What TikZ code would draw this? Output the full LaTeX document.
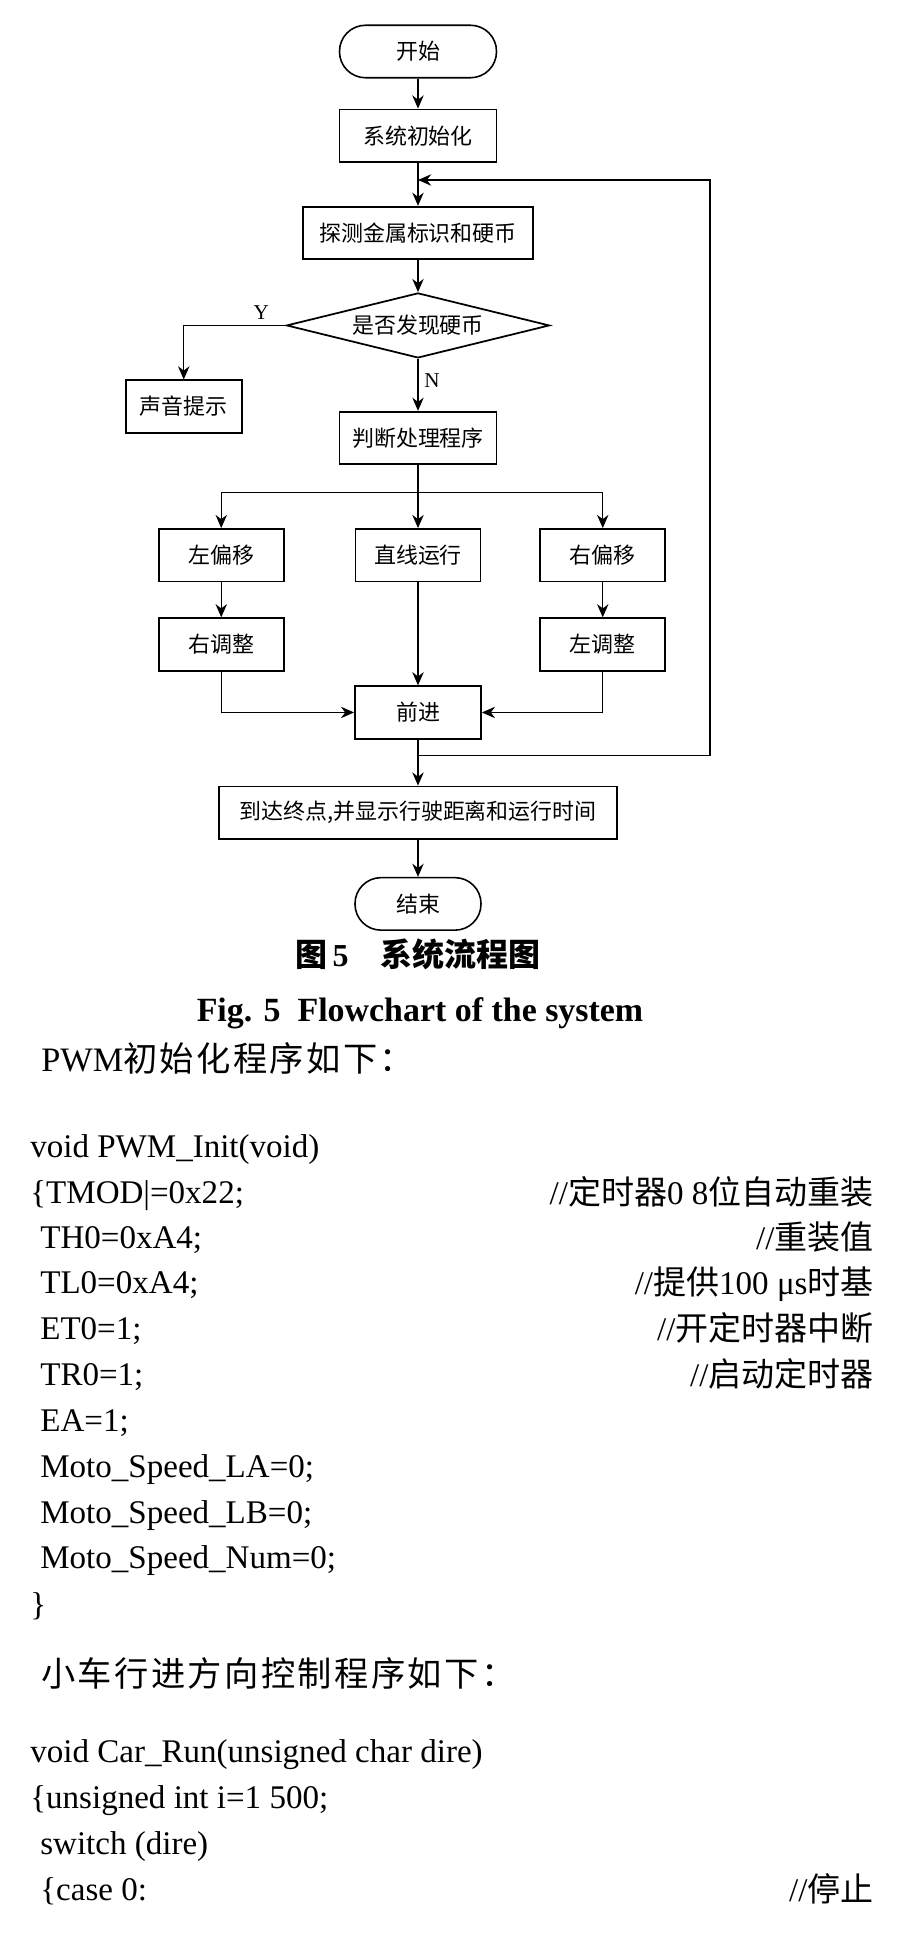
\documentclass[tikz,border=0pt]{standalone}
\usepackage{fontspec}
\setmainfont{Liberation Serif}
\newfontfamily\cjk{Noto Sans CJK SC}
\newfontfamily\cjkwide{Noto Sans CJK SC}[LetterSpace=7]
\usepackage{tikz}
\usetikzlibrary{shapes.geometric,arrows.meta,positioning,calc}
\newcommand{\fcfont}{\cjk\fontsize{12.5}{15}\selectfont}
\newcommand{\codefont}{\fontsize{18.8}{22}\selectfont}
\newcommand{\headfont}{\fontsize{19.5}{23}\selectfont}
\tikzset{
  pbox/.style={
    rectangle, draw, line width=1pt,
    minimum width=#1, minimum height=1.05cm,
    inner sep=2pt, align=center, font=\fcfont
  },
  tbox/.style={
    rectangle, rounded corners=0.52cm, draw, line width=0.9pt,
    minimum width=#1, minimum height=1.05cm,
    inner sep=2pt, align=center, font=\fcfont
  },
  dbox/.style={
    diamond, aspect=4, draw, line width=1pt,
    minimum width=5.26cm, minimum height=1.3cm,
    inner sep=0pt, align=center, font=\fcfont
  },
  arr/.style={-{Stealth[length=7.5pt,width=6.5pt]}, line width=0.65pt},
  lbl/.style={font=\fontsize{12}{14}\selectfont},
  capline/.style={inner sep=0pt, text height=0.7em, text depth=0pt},
  code/.style={anchor=west, inner sep=0pt, text height=0.66em,
    text depth=0pt, font=\codefont},
  note/.style={code, anchor=east, text height=0.76em},
  head/.style={anchor=west, inner sep=0pt, text height=0.76em,
    text depth=0pt, font=\headfont}
}
\begin{document}
\begin{tikzpicture}[node distance=0.6cm and 0.5cm]
\useasboundingbox (0,0) rectangle (18.02,-38.76);

% Flowchart
\node[tbox=3.14cm] (start) at (8.36,-1.03) {开始};
\node[pbox=3.14cm, below=0.6cm of start] (init) {系统初始化};
\node[pbox=4.6cm, below=0.86cm of init] (detect) {探测金属标识和硬币};
\node[dbox, below=0.64cm of detect] (coin) {是否发现硬币};
\node[pbox=2.32cm, below left=1.08cm and 0.86cm of coin.west] (sound) {声音提示};
\node[pbox=3.14cm, below=1.04cm of coin] (judge) {判断处理程序};

\node[pbox=2.5cm, below=1.26cm of judge] (straight) {直线运行};
\node[pbox=2.5cm, left=1.4cm of straight] (lshift) {左偏移};
\node[pbox=2.5cm, right=1.16cm of straight] (rshift) {右偏移};
\node[pbox=2.5cm, below=0.7cm of lshift] (radjust) {右调整};
\node[pbox=2.5cm, below=0.7cm of rshift] (ladjust) {左调整};

\node[pbox=2.52cm, below=2.06cm of straight] (fwd) {前进};
\node[pbox=7.96cm, below=0.92cm of fwd] (arrive)
  {到达终点,并显示行驶距离和运行时间};
\node[tbox=2.52cm, below=0.74cm of arrive] (stop) {结束};

\coordinate (join) at ($(init.south)!0.4!(detect.north)$);
\coordinate (split) at ($(fwd.south)!0.35!(arrive.north)$);

% ── Arrows ──────────────────────────────────────────────────────────────
\draw[arr] (start) -- (init);
\draw[arr] (init) -- (detect);
\draw[arr] (detect) -- (coin);
\draw[arr] (coin.west) -| node[lbl, pos=0.12, above] {Y} (sound.north);
\draw[arr] (coin) -- node[lbl, pos=0.42, right] {N} (judge);

\draw[arr] (judge.south) -- ++(0,-0.54) -| (lshift.north);
\draw[arr] (judge) -- (straight);
\draw[arr] (judge.south) -- ++(0,-0.54) -| (rshift.north);

\draw[arr] (lshift) -- (radjust);
\draw[arr] (rshift) -- (ladjust);
\draw[arr] (straight) -- (fwd);
\draw[arr] (radjust.south) |- (fwd.west);
\draw[arr] (ladjust.south) |- (fwd.east);

\draw[arr] (fwd) -- (arrive);
\draw[arr] (arrive) -- (stop);

% Loop back to detection
\draw[arr] (split) -- ++(5.84,0) |- (join);

% Caption
\node[capline, font=\bfseries\fontsize{18.2}{22}\selectfont] (figcn) at (8.36,-19.20)
  {{\cjk 图}\,5\quad{\cjk 系统流程图}};
\node[capline, font=\bfseries\fontsize{19.3}{23}\selectfont] (figen) at (8.40,-20.30)
  {Fig. 5\ \ Flowchart of the system};

% PWM init listing
\node[head] (pwmtitle) at (0.82,-21.30) {PWM{\cjkwide 初始化程序如下：}};
\node[code] (pwmdecl) at (0.60,-23.04) {void PWM\_Init(void)};
\node[code] (tmod) at (0.60,-23.96) {\{TMOD|=0x22;};
\node[code] (th0) at (0.80,-24.86) {TH0=0xA4;};
\node[code] (tl0) at (0.80,-25.76) {TL0=0xA4;};
\node[code] (et0) at (0.80,-26.68) {ET0=1;};
\node[code] (tr0) at (0.80,-27.60) {TR0=1;};
\node[code] (ea) at (0.80,-28.52) {EA=1;};
\node[code] (spla) at (0.80,-29.44) {Moto\_Speed\_LA=0;};
\node[code] (splb) at (0.80,-30.36) {Moto\_Speed\_LB=0;};
\node[code] (spnum) at (0.80,-31.26) {Moto\_Speed\_Num=0;};
\node[code] (pwmend) at (0.60,-32.20) {\}};

\node[note] (tmodc) at (17.48,-23.96) {//{\cjk 定时器}0 8{\cjk 位自动重装}};
\node[note] (th0c) at (17.48,-24.86) {//{\cjk 重装值}};
\node[note] (tl0c) at (17.48,-25.76) {//{\cjk 提供}100 μs{\cjk 时基}};
\node[note] (et0c) at (17.48,-26.68) {//{\cjk 开定时器中断}};
\node[note] (tr0c) at (17.48,-27.60) {//{\cjk 启动定时器}};

% Car run listing
\node[head] (cartitle) at (0.82,-33.60) {{\cjkwide 小车行进方向控制程序如下：}};
\node[code] (cardecl) at (0.60,-35.14) {void Car\_Run(unsigned char dire)};
\node[code] (cari) at (0.60,-36.06) {\{unsigned int i=1 500;};
\node[code] (carsw) at (0.80,-36.98) {switch (dire)};
\node[code] (case0) at (0.80,-37.90) {\{case 0:};
\node[note] (case0c) at (17.48,-37.90) {//{\cjk 停止}};

\end{tikzpicture}
\end{document}
